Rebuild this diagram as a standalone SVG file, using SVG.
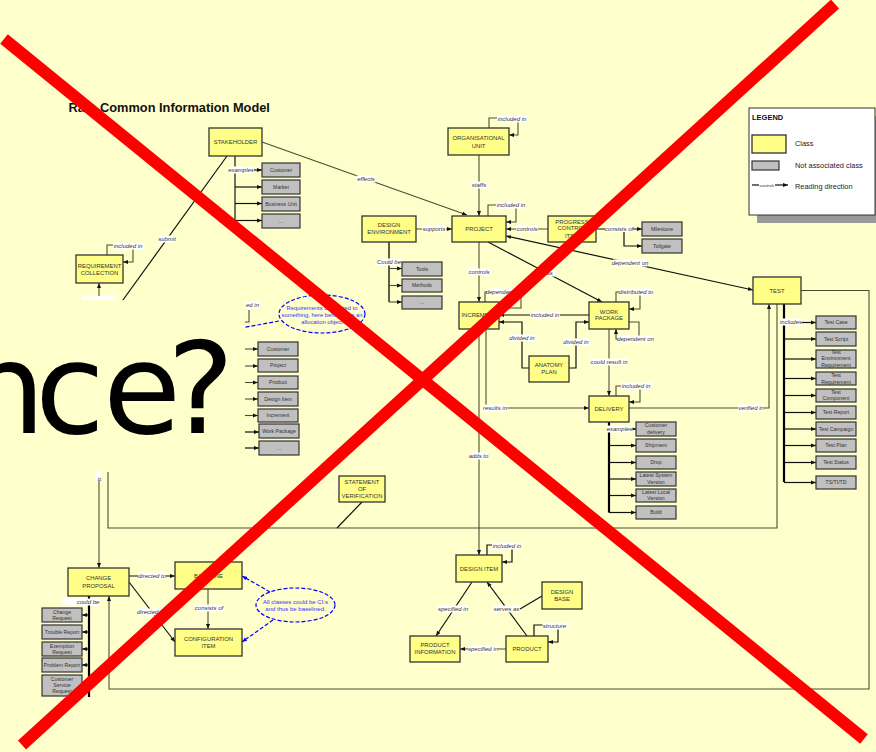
<svg xmlns="http://www.w3.org/2000/svg" width="876" height="752" viewBox="0 0 876 752">
<defs>
<marker id="ah" viewBox="0 0 10 10" refX="10" refY="5" markerWidth="5" markerHeight="5" markerUnits="userSpaceOnUse" orient="auto"><path d="M0,1L10,5L0,9z" fill="#111"/></marker>
<marker id="as" viewBox="0 0 10 10" refX="10" refY="5" markerWidth="5" markerHeight="5" markerUnits="userSpaceOnUse" orient="auto-start-reverse"><path d="M0,1L10,5L0,9z" fill="#111"/></marker>
<marker id="ab" viewBox="0 0 10 10" refX="10" refY="5" markerWidth="5" markerHeight="5" markerUnits="userSpaceOnUse" orient="auto"><path d="M0,1L10,5L0,9z" fill="#0000FF"/></marker>
</defs>
<style>
.c{fill:#FFFF88;stroke:#333;stroke-width:1.3}
.g{fill:#C0C0C0;stroke:#333;stroke-width:1.2}
.ct{font-family:"Liberation Sans",Arial,sans-serif;font-size:5.9px;fill:#333;text-anchor:middle}
.gt{font-family:"Liberation Sans",Arial,sans-serif;font-size:5.2px;fill:#333;text-anchor:middle}
.l{fill:none;stroke:#4d4d33;stroke-width:1.1}
.k{fill:none;stroke:#111;stroke-width:1.2}
.K{fill:none;stroke:#000;stroke-width:2.2}
.lb{fill:#fff}
.lt{font-family:"Liberation Sans",Arial,sans-serif;font-size:6px;font-style:italic;fill:#333;text-anchor:middle}
.bl{fill:none;stroke:#0000FF;stroke-width:1.2;stroke-dasharray:4 2}
.bt{font-family:"Liberation Sans",Arial,sans-serif;font-size:5.8px;fill:#3333FF;text-anchor:middle}
.lg{font-family:"Liberation Sans",Arial,sans-serif;font-size:7.4px;fill:#222}
</style>
<rect width="876" height="752" fill="#FFFFCC"/>
<text x="68.5" y="112" font-family="Liberation Sans, Arial, sans-serif" font-size="12.8" font-weight="bold" fill="#111">Ra</text>
<text x="100" y="112" font-family="Liberation Sans, Arial, sans-serif" font-size="12.8" font-weight="bold" fill="#111">Common Information Model</text>

<g id="legend">
<rect x="757" y="116" width="119" height="107" fill="#999"/>
<rect x="749" y="108" width="126" height="107" fill="#fff" stroke="#333" stroke-width="1"/>
<text x="752" y="119.5" font-family="Liberation Sans, Arial, sans-serif" font-size="7.5" font-weight="bold" fill="#111">LEGEND</text>
<rect x="752" y="135" width="34" height="18" class="c"/>
<text x="795" y="146" class="lg">Class</text>
<rect x="752" y="161" width="27" height="9" class="g"/>
<text x="795" y="168" class="lg">Not associated class</text>
<path d="M752,185H759" class="k"/>
<text x="767" y="186.5" font-family="Liberation Sans, Arial, sans-serif" font-size="4.3" font-style="italic" fill="#333" text-anchor="middle">controls</text>
<path d="M775,185H788" class="k" marker-end="url(#ah)"/>
<text x="795" y="188.5" class="lg">Reading direction</text>
</g>

<g id="connectors">
<path class="l" d="M262,142L467,215" marker-end="url(#ah)"/>
<path class="k" d="M235,156V220.5"/>
<path class="k" d="M235,170H262" marker-end="url(#ah)"/>
<path class="k" d="M235,187H262" marker-end="url(#ah)"/>
<path class="k" d="M235,203.5H262" marker-end="url(#ah)"/>
<path class="k" d="M235,220.5H262" marker-end="url(#ah)"/>
<path class="k" d="M227,156L115,311"/>
<path class="l" d="M107,255V245H133V262H123" marker-end="url(#ah)"/>
<path class="l" d="M99,330V283" marker-end="url(#ah)"/>
<path class="l" d="M489,128V118H518V135H509" marker-end="url(#ah)"/>
<path class="l" d="M479,155V216" marker-end="url(#ah)"/>
<path class="l" d="M488,216V205H516V222H506" marker-end="url(#ah)"/>
<path class="l" d="M416,229H452" marker-end="url(#ah)"/>
<path class="l" d="M389,242V302" style="stroke-width:1.8"/>
<path class="l" d="M389,268.5H402" marker-end="url(#ah)"/>
<path class="l" d="M389,285.5H402" marker-end="url(#ah)"/>
<path class="l" d="M389,302H402" marker-end="url(#ah)"/>
<path class="l" d="M548,229H506" marker-end="url(#ah)"/>
<path class="k" d="M596,229H642" marker-end="url(#ah)"/>
<path class="k" d="M624,229V246H642" marker-end="url(#ah)"/>
<path class="k" d="M506,236L753,290" marker-start="url(#as)" marker-end="url(#as)"/>
<path class="k" d="M488,242L602,302" marker-end="url(#ah)"/>
<path class="l" d="M479,242V302" marker-end="url(#ah)"/>
<path class="l" d="M485,302V292H521V308H499" marker-end="url(#ah)"/>
<path class="k" d="M589,315H499" marker-end="url(#ah)"/>
<path class="k" d="M529,368H522V322H499" marker-end="url(#ah)"/>
<path class="k" d="M569,368H576V322H589" marker-end="url(#ah)"/>
<path class="l" d="M616,302V292H640V309H629" marker-end="url(#ah)"/>
<path class="l" d="M629,322H639V339H616V329" marker-end="url(#ah)"/>
<path class="l" d="M609,329V396" marker-end="url(#ah)"/>
<path class="l" d="M616,396V386H640V402H629" marker-end="url(#ah)"/>
<path class="l" d="M486,329V408H589" marker-end="url(#ah)"/>
<path class="l" d="M479,329V555" marker-end="url(#ah)"/>
<path class="l" d="M629,408H769V304" marker-end="url(#ah)"/>
<path class="l" d="M801,290.5H869V689H109V596" marker-end="url(#ah)"/>
<path class="l" d="M777,304V528H108V440"/>
<path class="k" d="M362,502L337,528"/>
<path class="K" d="M784,304V482"/>
<path class="k" d="M784,322.5H816" marker-end="url(#ah)"/>
<path class="k" d="M784,339H816" marker-end="url(#ah)"/>
<path class="k" d="M784,359H816" marker-end="url(#ah)"/>
<path class="k" d="M784,378.5H816" marker-end="url(#ah)"/>
<path class="k" d="M784,395.5H816" marker-end="url(#ah)"/>
<path class="k" d="M784,412.5H816" marker-end="url(#ah)"/>
<path class="k" d="M784,429H816" marker-end="url(#ah)"/>
<path class="k" d="M784,445.5H816" marker-end="url(#ah)"/>
<path class="k" d="M784,462.5H816" marker-end="url(#ah)"/>
<path class="k" d="M784,482.5H816" marker-end="url(#ah)"/>
<path class="K" d="M609,422V512.5"/>
<path class="k" d="M609,429H636" marker-end="url(#ah)"/>
<path class="k" d="M609,445.5H636" marker-end="url(#ah)"/>
<path class="k" d="M609,462.5H636" marker-end="url(#ah)"/>
<path class="k" d="M609,479H636" marker-end="url(#ah)"/>
<path class="k" d="M609,495.5H636" marker-end="url(#ah)"/>
<path class="k" d="M609,512.5H636" marker-end="url(#ah)"/>
<path class="l" d="M99,440V568" marker-end="url(#ah)"/>
<path class="k" d="M129,576H175" marker-end="url(#ah)"/>
<path class="k" d="M129,582L175,642" marker-end="url(#ah)"/>
<path class="l" d="M208,589V629" marker-end="url(#ah)"/>
<path class="K" d="M89,596V697"/>
<path class="k" d="M89,615H82" marker-end="url(#ah)"/>
<path class="k" d="M89,632H82" marker-end="url(#ah)"/>
<path class="k" d="M89,649H82" marker-end="url(#ah)"/>
<path class="k" d="M89,665H82" marker-end="url(#ah)"/>
<path class="k" d="M89,685H82" marker-end="url(#ah)"/>
<path class="k" d="M487,555V545H512V562H502" marker-end="url(#ah)"/>
<path class="k" d="M472,582L436,636" marker-end="url(#ah)"/>
<path class="k" d="M527,636L487,582" marker-end="url(#ah)"/>
<path class="k" d="M542,596L520,609"/>
<path class="l" d="M506,649H460" marker-end="url(#ah)"/>
<path class="k" d="M534,636V625H558V642H548" marker-end="url(#ah)"/>
<path class="l" d="M230,349H258" marker-end="url(#ah)"/>
<path class="l" d="M230,366H258" marker-end="url(#ah)"/>
<path class="l" d="M230,382.5H258" marker-end="url(#ah)"/>
<path class="l" d="M230,399H258" marker-end="url(#ah)"/>
<path class="l" d="M230,415.5H258" marker-end="url(#ah)"/>
<path class="k" d="M230,432H259" marker-end="url(#ah)"/>
<path class="k" d="M230,448H259" marker-end="url(#ah)"/>
<path class="l" d="M230,322H249V310"/>
<path class="bl" d="M279,321L230,330"/>
<path class="bl" d="M270,592L242,576" marker-end="url(#ab)"/>
<path class="bl" d="M273,620L242,642" marker-end="url(#ab)"/>

<rect class="lb" x="356.5" y="175.5" width="19" height="7"/><text class="lt" x="366" y="181">effects</text>
<rect class="lb" x="228" y="166.5" width="26" height="7"/><text class="lt" x="241" y="172">examples</text>
<rect class="lb" x="158" y="235.5" width="18" height="7"/><text class="lt" x="167" y="241">submit</text>
<rect class="lb" x="113" y="242.5" width="30" height="7"/><text class="lt" x="128" y="248">included in</text>
<rect class="lb" x="82" y="296" width="34" height="8"/>
<rect class="lb" x="497" y="115.5" width="30" height="7"/><text class="lt" x="512" y="121">included in</text>
<rect class="lb" x="471" y="181.5" width="16" height="7"/><text class="lt" x="479" y="187">staffs</text>
<rect class="lb" x="496" y="201.5" width="30" height="7"/><text class="lt" x="511" y="207">included in</text>
<rect class="lb" x="422" y="225" width="24" height="7"/><text class="lt" x="434" y="230.5">supports</text>
<rect class="lb" x="377" y="258.5" width="24" height="7"/><text class="lt" x="389" y="264">Could be</text>
<rect class="lb" x="516" y="225" width="22" height="7"/><text class="lt" x="527" y="230.5">controls</text>
<rect class="lb" x="605" y="225" width="28" height="7"/><text class="lt" x="619" y="230.5">consists of</text>
<rect class="lb" x="613" y="259.5" width="34" height="7"/><text class="lt" x="630" y="265">dependent on</text>
<rect class="lb" x="541" y="269.5" width="14" height="7"/><text class="lt" x="548" y="275">has</text>
<rect class="lb" x="468" y="268.5" width="22" height="7"/><text class="lt" x="479" y="274">controls</text>
<rect class="lb" x="487" y="288.5" width="34" height="7"/><text class="lt" x="504" y="294">dependent on</text>
<rect class="lb" x="530" y="311.5" width="30" height="7"/><text class="lt" x="545" y="317">included in</text>
<rect class="lb" x="509" y="334.5" width="26" height="7"/><text class="lt" x="522" y="340">divided in</text>
<rect class="lb" x="563" y="338.5" width="26" height="7"/><text class="lt" x="576" y="344">divided in</text>
<rect class="lb" x="619" y="288.5" width="34" height="7"/><text class="lt" x="636" y="294">distributed to</text>
<rect class="lb" x="618" y="335.5" width="35" height="7"/><text class="lt" x="635.5" y="341">dependent on</text>
<rect class="lb" x="590" y="358.5" width="38" height="7"/><text class="lt" x="609" y="364">could result in</text>
<rect class="lb" x="621" y="382.5" width="30" height="7"/><text class="lt" x="636" y="388">included in</text>
<rect class="lb" x="482.5" y="404.5" width="25" height="7"/><text class="lt" x="495" y="410">results in</text>
<rect class="lb" x="469" y="452.5" width="19" height="7"/><text class="lt" x="478.5" y="458">adds to</text>
<rect class="lb" x="738" y="404.5" width="26" height="7"/><text class="lt" x="751" y="410">verified in</text>
<rect class="lb" x="780" y="318.5" width="22" height="7"/><text class="lt" x="791" y="324">includes</text>
<rect class="lb" x="606.5" y="425.5" width="26" height="7"/><text class="lt" x="619.5" y="431">examples</text>
<rect class="lb" x="138" y="572.5" width="28" height="7"/><text class="lt" x="152" y="578">directed to</text>
<rect class="lb" x="137" y="608.5" width="28" height="7"/><text class="lt" x="151" y="614">directed to</text>
<rect class="lb" x="195" y="604.5" width="28" height="7"/><text class="lt" x="209" y="610">consists of</text>
<rect class="lb" x="62" y="598.5" width="38" height="7"/><text class="lt" x="88" y="604">could be</text>
<rect class="lb" x="492" y="542.5" width="30" height="7"/><text class="lt" x="507" y="548">included in</text>
<rect class="lb" x="438" y="605.5" width="30" height="7"/><text class="lt" x="453" y="611">specified in</text>
<rect class="lb" x="494" y="605.5" width="25" height="7"/><text class="lt" x="506.5" y="611">serves as</text>
<rect class="lb" x="468" y="645.5" width="30" height="7"/><text class="lt" x="483" y="651">specified in</text>
<rect class="lb" x="542.5" y="622.5" width="24" height="7"/><text class="lt" x="554.5" y="628">structure</text>
</g>

<g id="stakeholder"><rect class="c" x="209" y="128" width="53" height="28"/><text class="ct" x="235.5" y="144">STAKEHOLDER</text></g>
<g id="requirement-collection"><rect class="c" x="76" y="255" width="47" height="28"/><text class="ct" x="99.5" y="267.8">REQUIREMENT</text><text class="ct" x="99.5" y="274.8">COLLECTION</text></g>
<g id="organisational-unit"><rect class="c" x="448" y="128" width="61" height="27"/><text class="ct" x="478.5" y="139.8">ORGANISATIONAL</text><text class="ct" x="478.5" y="147.8">UNIT</text></g>
<g id="project"><rect class="c" x="452" y="216" width="54" height="26"/><text class="ct" x="479" y="230.8">PROJECT</text></g>
<g id="design-environment"><rect class="c" x="362" y="216" width="54" height="26"/><text class="ct" x="389" y="227">DESIGN</text><text class="ct" x="389" y="233.8">ENVIRONMENT</text></g>
<g id="progress-control-item"><rect class="c" x="548" y="216" width="48" height="26"/><text class="ct" x="572" y="223.8">PROGRESS</text><text class="ct" x="572" y="230.4">CONTROL</text><text class="ct" x="572" y="237.8">ITEM</text></g>
<g id="increment"><rect class="c" x="459" y="302" width="40" height="27"/><text class="ct" x="479" y="317">INCREMENT</text></g>
<g id="work-package"><rect class="c" x="589" y="302" width="40" height="27"/><text class="ct" x="609" y="313.8">WORK</text><text class="ct" x="609" y="320.4">PACKAGE</text></g>
<g id="anatomy-plan"><rect class="c" x="529" y="356" width="40" height="26"/><text class="ct" x="549" y="367">ANATOMY</text><text class="ct" x="549" y="373.8">PLAN</text></g>
<g id="delivery"><rect class="c" x="589" y="396" width="40" height="26"/><text class="ct" x="609" y="411">DELIVERY</text></g>
<g id="test"><rect class="c" x="753" y="277" width="48" height="27"/><text class="ct" x="777" y="292.8">TEST</text></g>
<g id="statement-of-verification"><rect class="c" x="339" y="476" width="46" height="26"/><text class="ct" x="362" y="483.8">STATEMENT</text><text class="ct" x="362" y="491">OF</text><text class="ct" x="362" y="497.8">VERIFICATION</text></g>
<g id="change-proposal"><rect class="c" x="68" y="568" width="61" height="28"/><text class="ct" x="98.5" y="580">CHANGE</text><text class="ct" x="98.5" y="588">PROPOSAL</text></g>
<g id="baseline"><rect class="c" x="175" y="562" width="67" height="27"/><text class="ct" x="208.5" y="577.8">BASELINE</text></g>
<g id="configuration-item"><rect class="c" x="175" y="629" width="67" height="27"/><text class="ct" x="208.5" y="641">CONFIGURATION</text><text class="ct" x="208.5" y="648">ITEM</text></g>
<g id="design-item"><rect class="c" x="456" y="555" width="46" height="27"/><text class="ct" x="479" y="571">DESIGN ITEM</text></g>
<g id="design-base"><rect class="c" x="542" y="582" width="40" height="27"/><text class="ct" x="562" y="594">DESIGN</text><text class="ct" x="562" y="601">BASE</text></g>
<g id="product-information"><rect class="c" x="410" y="636" width="50" height="26"/><text class="ct" x="435" y="646.5">PRODUCT</text><text class="ct" x="435" y="654">INFORMATION</text></g>
<g id="product"><rect class="c" x="506" y="636" width="42" height="26"/><text class="ct" x="527" y="651">PRODUCT</text></g>

<g id="stakeholder-examples">
<rect class="g" x="262" y="163" width="38" height="14"/><text class="gt" x="281" y="171.9">Customer</text>
<rect class="g" x="262" y="180" width="38" height="14"/><text class="gt" x="281" y="188.9">Market</text>
<rect class="g" x="262" y="197" width="38" height="14"/><text class="gt" x="281" y="205.9">Business Unit</text>
<rect class="g" x="262" y="214" width="38" height="14"/><text class="gt" x="281" y="222.9">...</text>
</g>
<g id="environment-kinds">
<rect class="g" x="402" y="262" width="40" height="14"/><text class="gt" x="422" y="270.9">Tools</text>
<rect class="g" x="402" y="279" width="40" height="13"/><text class="gt" x="422" y="287.4">Methods</text>
<rect class="g" x="402" y="296" width="40" height="13"/><text class="gt" x="422" y="304.4">...</text>
</g>
<g id="control-items">
<rect class="g" x="642" y="222" width="40" height="14"/><text class="gt" x="662" y="230.9">Milestone</text>
<rect class="g" x="642" y="239" width="40" height="14"/><text class="gt" x="662" y="247.9">Tollgate</text>
</g>
<g id="allocation-objects">
<rect class="g" x="258" y="342" width="40" height="14"/><text class="gt" x="278" y="350.9">Customer</text>
<rect class="g" x="258" y="359" width="40" height="13"/><text class="gt" x="278" y="367.4">Project</text>
<rect class="g" x="258" y="376" width="40" height="13"/><text class="gt" x="278" y="384.4">Product</text>
<rect class="g" x="258" y="392" width="40" height="14"/><text class="gt" x="278" y="400.9">Design Item</text>
<rect class="g" x="258" y="409" width="40" height="13"/><text class="gt" x="278" y="417.4">Increment</text>
<rect class="g" x="259" y="424" width="40" height="14"/><text class="gt" x="279" y="432.9">Work Package</text>
<rect class="g" x="259" y="441" width="40" height="14"/><text class="gt" x="279" y="449.9">...</text>
</g>
<g id="test-items">
<rect class="g" x="816" y="316" width="40" height="13"/><text class="gt" x="836" y="324.4">Test Case</text>
<rect class="g" x="816" y="332" width="40" height="14"/><text class="gt" x="836" y="340.9">Test Script</text>
<rect class="g" x="816" y="350" width="40" height="18"/><text class="gt" x="836" y="353.5">Test</text><text class="gt" x="836" y="360">Environment</text><text class="gt" x="836" y="366.8">Requirement</text>
<rect class="g" x="816" y="372" width="40" height="13"/><text class="gt" x="836" y="376.8">Test</text><text class="gt" x="836" y="383.5">Requirement</text>
<rect class="g" x="816" y="389" width="40" height="13"/><text class="gt" x="836" y="393.5">Test</text><text class="gt" x="836" y="399.5">Component</text>
<rect class="g" x="816" y="406" width="40" height="13"/><text class="gt" x="836" y="414.4">Test Report</text>
<rect class="g" x="816" y="422" width="40" height="14"/><text class="gt" x="836" y="430.9">Test Campaign</text>
<rect class="g" x="816" y="439" width="40" height="13"/><text class="gt" x="836" y="447.4">Test Plan</text>
<rect class="g" x="816" y="456" width="40" height="13"/><text class="gt" x="836" y="464.4">Test Status</text>
<rect class="g" x="816" y="476" width="40" height="13"/><text class="gt" x="836" y="484.4">TS/TI/TD</text>
</g>
<g id="delivery-examples">
<rect class="g" x="636" y="422" width="40" height="14"/><text class="gt" x="656" y="427">Customer</text><text class="gt" x="656" y="433.5">delivery</text>
<rect class="g" x="636" y="439" width="40" height="13"/><text class="gt" x="656" y="447.4">Shipment</text>
<rect class="g" x="636" y="456" width="40" height="13"/><text class="gt" x="656" y="464.4">Drop</text>
<rect class="g" x="636" y="472" width="40" height="14"/><text class="gt" x="656" y="477">Latest System</text><text class="gt" x="656" y="483.5">Version</text>
<rect class="g" x="636" y="489" width="40" height="13"/><text class="gt" x="656" y="493.5">Latest Local</text><text class="gt" x="656" y="500">Version</text>
<rect class="g" x="636" y="506" width="40" height="13"/><text class="gt" x="656" y="514.4">Build</text>
</g>
<g id="change-kinds">
<rect class="g" x="42" y="608" width="40" height="14"/><text class="gt" x="62" y="614">Change</text><text class="gt" x="62" y="620">Request</text>
<rect class="g" x="42" y="625" width="40" height="14"/><text class="gt" x="62" y="633.9">Trouble Report</text>
<rect class="g" x="42" y="642" width="40" height="14"/><text class="gt" x="62" y="648">Exemption</text><text class="gt" x="62" y="654">Request</text>
<rect class="g" x="42" y="658" width="40" height="14"/><text class="gt" x="62" y="666.9">Problem Report</text>
<rect class="g" x="42" y="675" width="40" height="21"/><text class="gt" x="62" y="681">Customer</text><text class="gt" x="62" y="687">Service</text><text class="gt" x="62" y="693">Request</text>
</g>

<g id="note-allocation">
<ellipse class="bl" cx="322" cy="314" rx="43" ry="19" fill="#FFFFCC"/>
<text class="bt" x="322" y="309.5">Requirements connected to</text>
<text class="bt" x="322" y="316.5">something, here behaves as an</text>
<text class="bt" x="322" y="323.5">allocation object</text>
</g>
<g id="note-baseline">
<ellipse class="bl" cx="295.5" cy="605" rx="39.5" ry="17" fill="#FFFFCC"/>
<text class="bt" x="295.5" y="604" style="font-size:6px">All classes could be CI:s</text>
<text class="bt" x="295.5" y="611" style="font-size:6px">and thus be baselined.</text>
</g>

<rect x="0" y="300" width="245" height="172" fill="#FFFFCC"/>
<rect x="245.5" y="301.5" width="14" height="7" fill="#fff"/>
<text x="246" y="307" font-family="Liberation Sans, Arial, sans-serif" font-size="6" font-style="italic" fill="#333">ed in</text>
<rect x="96" y="472" width="6" height="9" fill="#fff"/>
<text transform="translate(100.5,481) rotate(-90)" font-family="Liberation Sans, Arial, sans-serif" font-size="5" font-style="italic" fill="#333">is</text>

<text x="-35 35 103 167" y="433" font-family="DejaVu Sans, sans-serif" font-size="127" fill="#000">nce?</text>

<line x1="4" y1="39" x2="864" y2="739" stroke="#FF0000" stroke-width="12"/>
<line x1="835" y1="4" x2="22" y2="745" stroke="#FF0000" stroke-width="12"/>
</svg>
